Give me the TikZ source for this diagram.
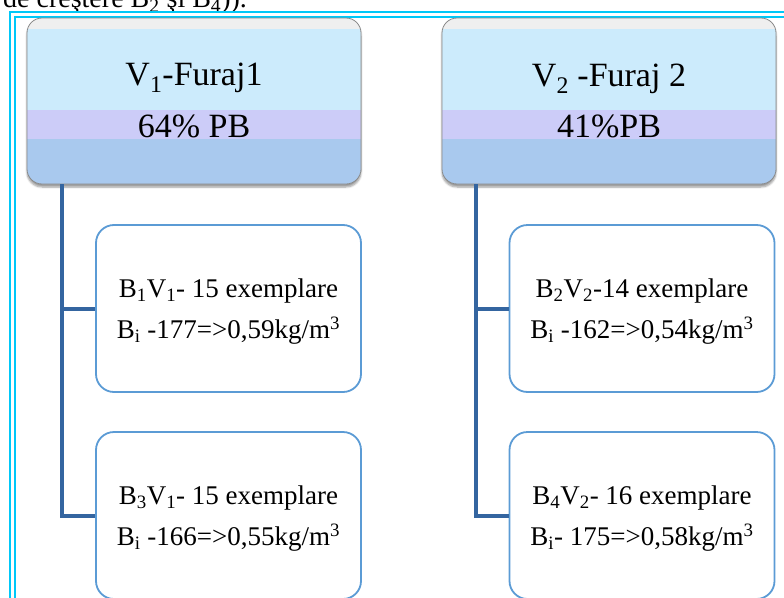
\documentclass[tikz,border=0pt]{standalone}
\usepackage{fontspec}
\setmainfont{Liberation Serif}
\usetikzlibrary{shadows.blur}
\definecolor{tgrey}{HTML}{EFEFEF}
\definecolor{tblue}{HTML}{CCEBFC}
\definecolor{tlav}{HTML}{CCCCF8}
\definecolor{tdark}{HTML}{A9C9EE}
\definecolor{tborder}{HTML}{8A8A8A}
\definecolor{conncol}{RGB}{52,101,160}
\definecolor{childcol}{HTML}{5B9BD5}
\definecolor{framecol}{HTML}{00C8F8}
\tikzset{
  topbox/.style={draw=tborder, line width=0.8pt, fill=tblue, rounded corners=15pt,
    minimum width=334pt, minimum height=166pt, inner sep=0pt,
    blur shadow={shadow xshift=0pt, shadow yshift=-3pt, shadow blur steps=6, shadow opacity=40},
    path picture={
      \begin{scope}[sharp corners]
      \fill[tgrey] (path picture bounding box.north west) rectangle ([yshift=-11pt]path picture bounding box.north east);
      \fill[tblue] ([yshift=-11pt]path picture bounding box.north west) rectangle ([yshift=-92pt]path picture bounding box.north east);
      \fill[tlav] ([yshift=-92pt]path picture bounding box.north west) rectangle ([yshift=-121pt]path picture bounding box.north east);
      \fill[tdark] ([yshift=-121pt]path picture bounding box.north west) rectangle (path picture bounding box.south east);
      \end{scope}
    }},
  toptext/.style={font=\fontsize{34}{40}\selectfont, anchor=base, inner sep=0pt},
  childbox/.style={draw=childcol, line width=1.8pt, fill=white, rounded corners=18pt,
    minimum width=265pt, minimum height=167pt, inner sep=0pt},
  childtext/.style={font=\fontsize{27}{41}\selectfont, align=center, inner sep=0pt},
  conn/.style={draw=conncol, line width=4pt},
  frameout/.style={draw=framecol, line width=2.6pt},
  framein/.style={draw=framecol, line width=2pt},
}
\begin{document}
\begin{tikzpicture}[x=1pt,y=-1pt]
\useasboundingbox (0,0) rectangle (784,597);
% partially visible heading
\node[anchor=base west, inner sep=0pt, font=\fontsize{28}{32}\selectfont] (head) at (3,8) {de creştere B\textsubscript{2} şi B\textsubscript{4})).};
% double frame
\draw[frameout] (10,12) rectangle (820,640);
\draw[framein] (15,16.5) rectangle (815,635);
% top boxes
\node[topbox] (v1) at (194,101) {};
\node[topbox] (v2) at (609,101) {};
\node[toptext] (v1a) at (194,85) {V\textsubscript{1}-Furaj1};
\node[toptext] (v1b) at (194,137) {64\% PB};
\node[toptext] (v2a) at (609,86) {V\textsubscript{2} -Furaj 2};
\node[toptext] (v2b) at (609,137) {41\%PB};
% child boxes
\node[childbox] (b1) at (228.5,308.5) {};
\node[childbox] (b3) at (228.5,515.5) {};
\node[childbox] (b2) at (642,308.5) {};
\node[childbox] (b4) at (642,515.5) {};
\node[childtext] (t1) at ([yshift=-3pt]b1.center) {B\textsubscript{1}V\textsubscript{1}- 15 exemplare\\B\textsubscript{i} -177=>0,59kg/m\textsuperscript{3}};
\node[childtext] (t3) at ([yshift=-3pt]b3.center) {B\textsubscript{3}V\textsubscript{1}- 15 exemplare\\B\textsubscript{i} -166=>0,55kg/m\textsuperscript{3}};
\node[childtext] (t2) at ([yshift=-3pt]b2.center) {B\textsubscript{2}V\textsubscript{2}-14 exemplare\\B\textsubscript{i} -162=>0,54kg/m\textsuperscript{3}};
\node[childtext] (t4) at ([yshift=-3pt]b4.center) {B\textsubscript{4}V\textsubscript{2}- 16 exemplare\\B\textsubscript{i}- 175=>0,58kg/m\textsuperscript{3}};
% connectors
\coordinate (j1) at ([xshift=35pt]v1.south west);
\coordinate (j2) at ([xshift=34pt]v2.south west);
\draw[conn] (j1) |- (b3.west);
\draw[conn] (b1.west) -- (b1.west -| j1);
\draw[conn] (j2) |- (b4.west);
\draw[conn] (b2.west) -- (b2.west -| j2);
\end{tikzpicture}
\end{document}
